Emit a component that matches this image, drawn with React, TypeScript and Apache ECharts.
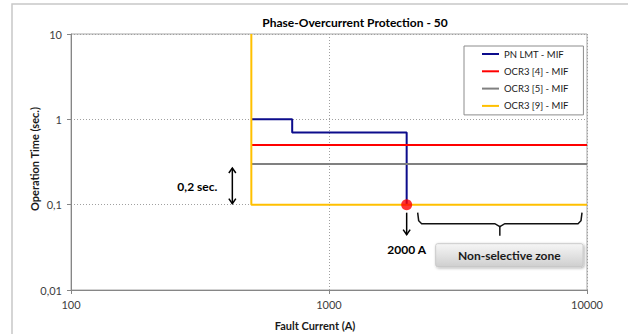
import React, { useEffect, useRef } from 'react';
import * as echarts from 'echarts';

const titleText = 'Phase-Overcurrent Protection - 50';
const xAxisName = 'Fault Current (A)';
const yAxisName = 'Operation Time (sec.)';
const xTickLabels = ['100', '1000', '10000'];
const xTickValues = [100, 1000, 10000];
const yTickLabels = ['0,01', '0,1', '1', '10'];
const yTickValues = [0.01, 0.1, 1, 10];
const seriesNames = ['PN LMT - MIF', 'OCR3 [4] - MIF', 'OCR3 [5] - MIF', 'OCR3 [9] - MIF'];
const pnCurrent = [500, 720, 720, 2000, 2000];
const pnTime = [1, 1, 0.7, 0.7, 0.1];
const ocr4Current = [500, 10000];
const ocr4Time = [0.5, 0.5];
const ocr5Current = [500, 10000];
const ocr5Time = [0.3, 0.3];
const ocr9Current = [500, 500, 10000];
const ocr9Time = [10, 0.1, 0.1];
const markerPoint = [2000, 0.1];
const colors = ['#0c0c8c', '#ff0000', '#808080', '#ffc000'];

const FONT = 'Lato';

function zip(a: number[], b: number[]) {
  return a.map((v, i) => [v, b[i]]);
}

function nearestLabel(v: number, values: number[], labels: string[]) {
  let best = 0;
  values.forEach((t, i) => {
    if (Math.abs(Math.log10(t) - Math.log10(v)) < Math.abs(Math.log10(values[best]) - Math.log10(v))) best = i;
  });
  return labels[best];
}

export default function App() {
  const ref = useRef<HTMLDivElement>(null);
  useEffect(() => {
    if (!ref.current) return;
    const chart = echarts.init(ref.current, undefined, { renderer: 'svg' });
    const lineSeries = [
      zip(pnCurrent, pnTime),
      zip(ocr4Current, ocr4Time),
      zip(ocr5Current, ocr5Time),
      zip(ocr9Current, ocr9Time),
    ].map((data, i) => ({
      name: seriesNames[i],
      type: 'line',
      data,
      color: colors[i],
      showSymbol: false,
      symbol: 'none',
      lineStyle: { width: 2, color: colors[i] },
      z: 2 + i,
    }));
    chart.setOption({
      animation: false,
      grid: {
        left: 71, right: 41, top: 34, bottom: 44,
        show: true, borderColor: '#a6a6a6', borderWidth: 1,
      },
      legend: {
        data: seriesNames,
        orient: 'vertical',
        left: 464, top: 46,
        padding: [2, 15, 3, 18],
        itemGap: 5.3,
        itemWidth: 17,
        itemHeight: 2,
        icon: 'rect',
        borderColor: '#8c8c8c', borderWidth: 1,
        backgroundColor: '#fff',
        textStyle: { fontFamily: FONT, fontSize: 9.5, color: '#1a1a1a', lineHeight: 12 },
      },
      xAxis: {
        type: 'log', logBase: 10, min: 100, max: 10000,
        axisLine: { lineStyle: { color: '#868686' } },
        axisTick: { show: true, length: 4, lineStyle: { color: '#868686' } },
        axisLabel: {
          fontFamily: FONT, fontSize: 11, color: '#404040', margin: 9,
          formatter: (v: number) => nearestLabel(v, xTickValues, xTickLabels),
        },
        splitLine: { show: true, lineStyle: { color: '#a0a0a0', type: [1, 2] } },
      },
      yAxis: {
        type: 'log', logBase: 10, min: 0.01, max: 10,
        axisLine: { show: true, lineStyle: { color: '#868686' } },
        axisTick: { show: true, length: 4, lineStyle: { color: '#868686' } },
        axisLabel: {
          fontFamily: FONT, fontSize: 11, color: '#404040', margin: 9,
          formatter: (v: number) => nearestLabel(v, yTickValues, yTickLabels),
        },
        splitLine: { show: true, lineStyle: { color: '#a0a0a0', type: [1, 2] } },
      },
      series: [
        ...lineSeries,
        {
          name: 'marker',
          type: 'scatter',
          data: [markerPoint],
          symbolSize: 11,
          itemStyle: { color: '#ff0000' },
          z: 10,
        },
      ],
    });

    const p = (x: number, y: number) => chart.convertToPixel({ gridIndex: 0 }, [x, y]) as number[];
    const [xm, ym] = p(markerPoint[0], markerPoint[1]);
    const x500 = p(ocr9Current[0], 1)[0];
    const y03 = p(1, ocr5Time[0])[1];
    const xRight = p(10000, 1)[0];
    const black = '#000';
    const ax = x500 - 19;
    const aTop = y03 + 4;
    const aBot = ym - 1;
    const bTop = ym + 8;
    const bMid = ym + 19;
    const bL = xm + 11;
    const bR = xRight - 5;
    const bC = (bL + bR) / 2;
    const graphics: any[] = [
      {
        type: 'rect', z: -10, silent: true,
        shape: { x: 12, y: 4, width: 700, height: 400 },
        style: { fill: 'none', stroke: '#c8c8c8', lineWidth: 1.5 },
      },
      {
        type: 'text', x: 355, y: 22,
        style: { text: titleText, fontFamily: FONT, fontSize: 12, fontWeight: 'bold', fill: '#000', align: 'center', verticalAlign: 'middle' },
      },
      {
        type: 'text', x: 315, y: 325,
        style: { text: xAxisName, fontFamily: FONT, fontSize: 11, fontWeight: 'bold', fill: '#1a1a1a', align: 'center', verticalAlign: 'middle' },
      },
      {
        type: 'text', x: 34, y: 159, rotation: Math.PI / 2,
        style: { text: yAxisName, fontFamily: FONT, fontSize: 11, fontWeight: 'bold', fill: '#1a1a1a', align: 'center', verticalAlign: 'middle' },
      },
      // 0,2 sec double arrow
      { type: 'line', shape: { x1: ax, y1: aTop, x2: ax, y2: aBot }, style: { stroke: black, lineWidth: 1.5 } },
      { type: 'polyline', shape: { points: [[ax - 3.5, aTop + 5], [ax, aTop], [ax + 3.5, aTop + 5]] }, style: { stroke: black, lineWidth: 1.5, fill: 'none' } },
      { type: 'polyline', shape: { points: [[ax - 3.5, aBot - 5], [ax, aBot], [ax + 3.5, aBot - 5]] }, style: { stroke: black, lineWidth: 1.5, fill: 'none' } },
      {
        type: 'text', x: ax - 15, y: (aTop + aBot) / 2 + 1,
        style: { text: '0,2 sec.', fontFamily: FONT, fontSize: 12, fontWeight: 'bold', fill: '#000', align: 'right', verticalAlign: 'middle' },
      },
      // 2000 A arrow
      { type: 'line', shape: { x1: xm, y1: ym + 8, x2: xm, y2: ym + 30 }, style: { stroke: black, lineWidth: 1.5 } },
      { type: 'polyline', shape: { points: [[xm - 3.5, ym + 25], [xm, ym + 30], [xm + 3.5, ym + 25]] }, style: { stroke: black, lineWidth: 1.5, fill: 'none' } },
      {
        type: 'text', x: xm, y: ym + 45,
        style: { text: '2000 A', fontFamily: FONT, fontSize: 12, fontWeight: 'bold', fill: '#000', align: 'center', verticalAlign: 'middle' },
      },
      // brace
      {
        type: 'polyline',
        shape: { points: [[bL, bTop], [bL + 1, bMid - 3], [bL + 4, bMid], [bC - 5, bMid], [bC, bMid + 3], [bC + 5, bMid], [bR - 4, bMid], [bR - 1, bMid - 3], [bR, bTop]] },
        style: { stroke: '#111', lineWidth: 1.5, fill: 'none' },
      },
      { type: 'line', shape: { x1: bC, y1: bMid + 3, x2: bC, y2: bMid + 12 }, style: { stroke: '#111', lineWidth: 1.5 } },
      // Non-selective zone box
      {
        type: 'rect',
        shape: { x: bL + 18, y: ym + 39, width: bR - bL - 17, height: 23, r: 2 },
        style: {
          fill: new echarts.graphic.LinearGradient(0, 0, 0, 1, [
            { offset: 0, color: '#f6f6f6' },
            { offset: 1, color: '#cfcfcf' },
          ]),
          stroke: '#c4c4c4', lineWidth: 0.8,
          shadowBlur: 3, shadowColor: 'rgba(0,0,0,0.35)', shadowOffsetX: 1, shadowOffsetY: 1,
        },
      },
      {
        type: 'text', x: bL + 18 + (bR - bL - 17) / 2, y: ym + 51,
        style: { text: 'Non-selective zone', fontFamily: FONT, fontSize: 12, fontWeight: 'bold', fill: '#1a1a1a', align: 'center', verticalAlign: 'middle' },
      },
    ];
    chart.setOption({ graphic: graphics });
    return () => chart.dispose();
  }, []);
  return <div ref={ref} style={{ position: 'fixed', left: 0, top: 0, width: 628, height: 334, background: '#fff' }} />;
}
